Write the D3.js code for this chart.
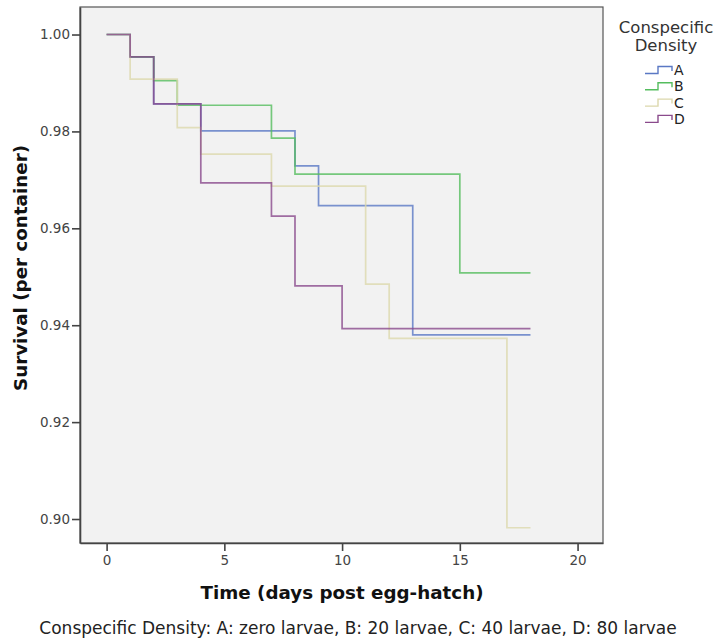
<!DOCTYPE html>
<html>
<head>
<meta charset="utf-8">
<script src="https://cdn.jsdelivr.net/npm/d3@7"></script>
<style>
  body { margin: 0; background: #fff; }
  text { font-family: "DejaVu Sans", Verdana, sans-serif; }
</style>
</head>
<body>
<svg id="chart" width="717" height="641"></svg>
<script>
// groups in legend order
const groups = ["A", "B", "C", "D"];
const groupColors = ["#5a78c4", "#55bd5e", "#dcd8ac", "#8a4a8c"];

// step survival curves: [day, survival after that day]
const survA = [[0, 1.0], [1, 0.9954], [2, 0.9857], [4, 0.9801], [8, 0.9729], [9, 0.9647], [13, 0.9380], [18, 0.9380]];
const survB = [[0, 1.0], [1, 0.9954], [2, 0.9905], [3, 0.9854], [7, 0.9786], [8, 0.9712], [15, 0.9508], [18, 0.9508]];
const survC = [[0, 1.0], [1, 0.9908], [3, 0.9808], [4, 0.9753], [7, 0.9687], [11, 0.9485], [12, 0.9373], [17, 0.8982], [18, 0.8982]];
const survD = [[0, 1.0], [1, 0.9954], [2, 0.9857], [4, 0.9694], [7, 0.9625], [8, 0.9481], [10, 0.9393], [18, 0.9393]];

const xTicks = [0, 5, 10, 15, 20];
const yTicks = [0.90, 0.92, 0.94, 0.96, 0.98, 1.00];

const svg = d3.select("#chart");
const margin = { left: 80, top: 7, right: 603, bottom: 543 };

const x = d3.scaleLinear().domain([-1.13, 21.08]).range([margin.left, margin.right]);
const y = d3.scaleLinear().domain([0.89505, 1.00568]).range([margin.bottom, margin.top]);

svg.append("rect")
  .attr("x", margin.left)
  .attr("y", margin.top)
  .attr("width", margin.right - margin.left)
  .attr("height", margin.bottom - margin.top)
  .attr("fill", "#f2f2f2")
  .attr("stroke", "#555")
  .attr("stroke-width", 1.2);

const stepLine = d3.line()
  .x((d) => x(d[0]))
  .y((d) => y(d[1]))
  .curve(d3.curveStepAfter);

[survA, survB, survC, survD].forEach((s, i) => {
  svg.append("path")
    .attr("d", stepLine(s))
    .attr("fill", "none")
    .attr("stroke", groupColors[i])
    .attr("stroke-width", 1.7)
    .attr("stroke-opacity", 0.8);
});

const xAxis = svg.append("g")
  .attr("transform", "translate(0," + margin.bottom + ")")
  .call(d3.axisBottom(x).tickValues(xTicks).tickSize(8).tickSizeOuter(0).tickPadding(4).tickFormat(d3.format("d")));

const yAxis = svg.append("g")
  .attr("transform", "translate(" + margin.left + ",0)")
  .call(d3.axisLeft(y).tickValues(yTicks).tickSize(8).tickSizeOuter(0).tickPadding(2).tickFormat(d3.format(".2f")));

[xAxis, yAxis].forEach((a) => {
  a.select(".domain").attr("stroke", "#444").attr("stroke-width", 1.6);
  a.selectAll(".tick line").attr("stroke", "#444").attr("stroke-width", 1.6);
  a.selectAll(".tick text")
    .attr("fill", "#444")
    .attr("font-size", 13.5)
    .style("font-family", "'DejaVu Sans', sans-serif");
});

svg.append("text")
  .attr("x", 342)
  .attr("y", 599)
  .attr("text-anchor", "middle")
  .attr("font-size", 18.3)
  .attr("font-weight", "bold")
  .attr("fill", "#111")
  .text("Time (days post egg-hatch)");

svg.append("text")
  .attr("transform", "translate(27,268) rotate(-90)")
  .attr("text-anchor", "middle")
  .attr("font-size", 18.3)
  .attr("font-weight", "bold")
  .attr("fill", "#111")
  .text("Survival (per container)");

svg.append("text")
  .attr("x", 358)
  .attr("y", 634)
  .attr("text-anchor", "middle")
  .attr("font-size", 17)
  .attr("fill", "#222")
  .text("Conspecific Density: A: zero larvae, B: 20 larvae, C: 40 larvae, D: 80 larvae");

// legend
const legend = svg.append("g");
legend.append("text")
  .attr("x", 666).attr("y", 33)
  .attr("text-anchor", "middle")
  .attr("font-size", 16.5)
  .attr("fill", "#333")
  .text("Conspecific");
legend.append("text")
  .attr("x", 666).attr("y", 51)
  .attr("text-anchor", "middle")
  .attr("font-size", 16.5)
  .attr("fill", "#333")
  .text("Density");

const item = legend.selectAll("g.item")
  .data(groups)
  .enter()
  .append("g")
  .attr("class", "item")
  .attr("transform", (d, i) => "translate(0," + (70 + i * 16.3) + ")");

item.append("path")
  .attr("d", "M645,3.5H658V-3.5H672V1")
  .attr("fill", "none")
  .attr("stroke", (d, i) => groupColors[i])
  .attr("stroke-width", 1.4);

item.append("text")
  .attr("x", 674)
  .attr("y", 5)
  .attr("font-size", 14)
  .attr("fill", "#222")
  .text((d) => d);
</script>
</body>
</html>
